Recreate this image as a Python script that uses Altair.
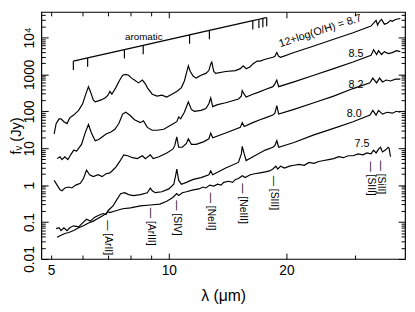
import altair as alt
import pandas as pd

# ---------------- data ----------------
lam_87 = [5.09,5.15,5.24,5.30,5.39,5.49,5.58,5.71,5.88,6.02,6.12,6.23,6.30,6.41,6.48,6.60,6.71,6.87,6.99,7.07,7.15,7.32,7.49,7.62,7.76,7.89,8.03,8.17,8.36,8.56,8.71,8.81,9.07,9.33,9.60,9.88,10.18,10.48,10.77,10.96,11.09,11.22,11.35,11.55,11.75,12.09,12.44,12.66,12.80,12.88,13.03,13.18,13.98,14.81,15.24,15.50,15.77,16.15,16.40,16.82,17.11,17.65,18.46,18.68,18.89,19.1,19.32,20.9,23.5,26.4,29.6,32.9,33.4,33.9,34.2,34.6,35.0,35.6,36.2,36.9,37.3,38.0,39.1]
f_87 = [24.3,46.4,62.4,62.4,52.2,46.4,66.2,79,106,160,273,464,345,203,180,191,203,229,273,345,290,438,702,942,1000,942,790,702,588,702,554,438,290,257,273,243,290,345,438,662,1062,1700,1195,889,790,942,1062,1267,1915,2155,1195,1062,1195,1267,1425,1700,1425,1605,1915,2290,2290,2570,2900,3070,3890,3070,2900,3890,5880,8890,13430,20300,24250,28950,21550,27300,30700,22850,24250,28950,27300,30700,32600]

lam_85 = [5.18,5.27,5.33,5.42,5.52,5.61,5.71,5.81,5.98,6.12,6.23,6.34,6.48,6.60,6.71,6.91,7.11,7.28,7.45,7.62,7.76,7.94,8.17,8.46,8.61,8.81,9.07,9.33,9.71,10.18,10.48,10.60,10.72,10.96,11.22,11.42,11.62,12.09,12.44,12.66,12.80,12.95,13.33,13.98,15.07,15.33,15.41,15.59,15.77,16.40,16.92,17.65,18.46,18.68,18.89,19.1,20.9,23.5,26.4,29.6,32.9,33.4,34.0,34.4,35.0,35.6,36.4,37.3,38.2,39.1]
f_85 = [5.22,5.88,4.92,5.88,4.92,6.62,8.89,8.38,12.7,27.3,43.8,25.7,16.0,17.0,19.1,24.3,27.3,32.6,46.4,83.8,94.2,79.0,58.8,49.2,55.4,36.6,30.7,30.7,32.6,43.8,52.2,70.2,62.4,94.2,180,112.5,100,106,119,160,229,134,151,170,215,257,366,290,243,290,326,389,464,554,702,464,624,942,1425,2155,3260,4640,3450,4380,3450,4125,3660,3890,4380,4125]

lam_82 = [5.09,5.18,5.27,5.33,5.42,5.55,5.65,5.78,5.94,6.05,6.16,6.27,6.41,6.60,6.75,6.91,7.07,7.20,7.32,7.49,7.67,7.85,8.07,8.31,8.56,8.71,8.97,9.12,9.44,9.88,10.24,10.36,10.48,10.60,10.83,11.09,11.22,11.42,11.75,12.30,12.66,12.80,12.95,13.98,15.24,15.41,15.59,16.40,17.11,17.65,18.46,18.68,18.89,19.1,20.9,23.5,26.4,29.6,32.7,33.25,34.0,34.6,35.2,36.0,36.9,38.0,39.1]
f_82 = [1.34,1.0,0.744,0.702,0.838,0.889,0.838,1.0,1.125,1.51,2.57,1.91,1.70,1.91,1.70,2.03,2.15,2.57,3.07,4.38,6.62,6.24,5.54,5.22,6.24,5.22,6.62,5.22,5.88,7.44,9.42,11.9,20.3,10.6,10.6,13.4,18.0,12.7,12.7,15.1,18.0,25.7,19.1,25.7,36.6,49.2,38.9,49.2,58.8,66.2,79.0,88.9,143,83.8,112.5,170,257,412,588,790,588,790,624,702,662,744,744]

lam_80 = [5.15,5.24,5.30,5.39,5.49,5.58,5.71,5.88,6.05,6.16,6.30,6.45,6.60,6.79,6.91,6.99,7.20,7.37,7.53,7.71,7.89,8.12,8.46,8.81,8.97,9.07,9.23,9.60,10.0,10.30,10.42,10.48,10.60,10.77,11.09,11.55,12.09,12.66,12.80,12.95,13.98,15.07,15.33,15.41,15.59,15.77,16.59,17.65,18.46,18.68,18.89,19.1,20.9,23.5,26.4,29.6,32.7,33.25,33.9,34.4,35.2,36.2,37.3,38.2,39.1]
f_80 = [0.0662,0.0702,0.0588,0.0702,0.0588,0.0702,0.079,0.0744,0.1,0.119,0.106,0.134,0.151,0.170,0.160,0.203,0.273,0.412,0.588,0.624,0.554,0.522,0.554,0.624,0.838,0.702,0.624,0.662,0.790,1.06,1.91,2.73,1.34,1.06,1.19,1.43,1.60,1.91,2.43,1.91,2.90,4.12,7.02,11.2,7.02,4.64,6.24,8.89,10.6,11.9,16.0,10.6,14.3,22.9,34.5,52.2,79.0,106,79.0,106,83.8,94.2,88.9,100,94.2]

lam_75 = [5.18,5.30,5.42,5.55,5.71,5.88,6.05,6.23,6.41,6.60,6.79,6.91,6.99,7.07,7.32,7.62,7.98,8.46,8.97,9.49,9.88,10.24,10.48,10.60,10.83,11.09,11.55,11.95,12.23,12.44,12.73,13.03,13.33,13.60,13.82,14.22,14.56,14.81,15.07,15.41,15.68,16.15,16.59,17.11,17.65,18.1,18.46,18.78,19.0,19.32,19.77,20.35,20.9,21.56,22.19,22.84,23.5,24.2,24.91,25.64,26.4,27.2,27.96,28.78,29.6,30.5,31.4,32.1,32.9,33.4,33.9,34.4,34.8,35.2,35.8,36.4,36.6,36.9]
f_75 = [0.0389,0.0438,0.0492,0.0522,0.0588,0.0702,0.079,0.0942,0.106,0.127,0.151,0.170,0.191,0.180,0.203,0.229,0.243,0.273,0.290,0.307,0.366,0.464,0.588,0.522,0.624,0.662,0.744,0.790,0.889,0.838,1.0,0.942,1.06,1.0,1.19,1.27,1.19,1.43,1.51,1.80,1.60,1.91,2.03,2.15,2.29,2.43,2.73,3.26,2.73,3.26,2.90,3.26,3.45,3.66,3.45,4.12,3.89,4.38,4.64,4.92,5.22,5.88,5.54,6.24,6.24,7.02,6.62,7.44,7.02,8.89,7.44,9.42,10.6,7.90,8.89,10.6,10.0,5.88]

# aromatic (PAH) feature markers
arom_lam = [5.7, 6.2, 7.7, 8.6, 11.3, 12.7, 16.4, 17.0, 17.4, 17.8]
arom_f = [2280, 2790, 4680, 6090, 11700, 15450, 28450, 31000, 32800, 34600]

# metallicity labels
z_labels = ["8.5", "8.2", "8.0", "7.5"]
z_lam = [30.1, 30.1, 29.8, 31.2]
z_f = [3450, 522, 83.8, 12.7]

main_label = ["12+log(O/H) = 8.7"]
main_lam = [24.4]
main_f = [14800]

arom_text = ["aromatic"]
arom_text_lam = [8.63]
arom_text_f = [10300]

# fine-structure line identifications
id_names = ["[ArII]", "[ArIII]", "[SIV]", "[NeII]", "[NeIII]", "[SIII]", "[SIII]", "[SiII]"]
id_lam = [6.99, 9.02, 10.48, 12.80, 15.50, 18.6, 32.9, 34.8]
id_f = [0.1125, 0.243, 0.389, 0.624, 1.125, 1.80, 4.38, 4.64]

# axis tick values
x_label_vals = [5, 10, 20]
x_tick_major = [10, 20]
x_tick_minor = [5, 6, 7, 8, 9, 30]
y_label_vals = [0.01, 0.1, 1, 10, 100, 1000, 10000]
y_minor = [round(m * 10.0 ** k, 6) for k in range(-2, 5) for m in range(2, 10) if m * 10.0 ** k < 49000]

# ---------------- tables ----------------
curves = [("8.7", lam_87, f_87), ("8.5", lam_85, f_85), ("8.2", lam_82, f_82),
          ("8.0", lam_80, f_80), ("7.5", lam_75, f_75)]
spec_df = pd.concat([pd.DataFrame({"lam": l, "f": f, "curve": n}) for n, l, f in curves],
                    ignore_index=True)
arom_df = pd.DataFrame({"lam": arom_lam, "f": arom_f})
zlab_df = pd.DataFrame({"lam": z_lam, "f": z_f, "label": z_labels})
main_df = pd.DataFrame({"lam": main_lam, "f": main_f, "label": main_label})
atext_df = pd.DataFrame({"lam": arom_text_lam, "f": arom_text_f, "label": arom_text})
id_df = pd.DataFrame({"lam": id_lam, "f": id_f, "label": ["\u2014 " + n for n in id_names]})

FONT = "Liberation Sans"
W, H = 371, 252
XS = alt.Scale(type="log", domain=[4.72, 40.2], nice=False)
YS = alt.Scale(type="log", domain=[0.01, 49000], nice=False)


def tick_axis(orient, offset, values, size):
    return alt.Axis(orient=orient, offset=offset, values=values, ticks=True,
                    tickSize=size, labels=False, domain=False, grid=False, title=None)


x_label_axis = alt.Axis(orient="bottom", values=x_label_vals, ticks=False, tickSize=0,
                        labelPadding=5, format="~g", labelFlush=False,
                        title="\u03bb (\u03bcm)", titleY=37, titleBaseline="middle")
y_label_axis = alt.Axis(orient="left", values=y_label_vals, ticks=False, tickSize=0,
                        labelPadding=8, labelAngle=270, labelAlign="center",
                        labelBaseline="alphabetic", labelFlush=False, labelOverlap=False,
                        labelExpr="datum.value >= 10000 ? '10\u2074' : format(datum.value, '~f')",
                        title="f\u1d65 (Jy)", titleX=-26, titleBaseline="middle",
                        titleFontSize=15)

spectra = alt.Chart(spec_df).mark_line(color="black", strokeWidth=1.2).encode(
    x=alt.X("lam:Q", scale=XS, axis=x_label_axis),
    y=alt.Y("f:Q", scale=YS, axis=y_label_axis),
    detail="curve:N",
)

arom_line = alt.Chart(arom_df).mark_line(color="black", strokeWidth=1.2).encode(
    x=alt.X("lam:Q", scale=XS, axis=tick_axis("bottom", -H, x_tick_major, 6)),
    y=alt.Y("f:Q", scale=YS, axis=tick_axis("right", -W, y_label_vals, 7)),
)

arom_ticks = alt.Chart(arom_df).mark_rule(color="black", strokeWidth=1.2, y2Offset=9).encode(
    x=alt.X("lam:Q", scale=XS, axis=tick_axis("bottom", -H, x_tick_minor, 4)),
    y=alt.Y("f:Q", scale=YS, axis=tick_axis("right", -W, y_minor, 4)),
    y2="f:Q",
)

zlabels = alt.Chart(zlab_df).mark_text(font=FONT, fontSize=11, color="black").encode(
    x=alt.X("lam:Q", scale=XS, axis=tick_axis("top", -H, x_tick_major, 6)),
    y=alt.Y("f:Q", scale=YS, axis=tick_axis("left", -W, y_label_vals, 7)),
    text="label:N",
)

idlabels = alt.Chart(id_df).mark_text(font=FONT, fontSize=10.5, color="black", angle=90,
                                      align="left", baseline="middle").encode(
    x=alt.X("lam:Q", scale=XS, axis=tick_axis("top", -H, x_tick_minor, 4)),
    y=alt.Y("f:Q", scale=YS, axis=tick_axis("left", -W, y_minor, 4)),
    text="label:N",
)

mainlabel = alt.Chart(main_df).mark_text(font=FONT, fontSize=11, color="black", angle=342).encode(
    x=alt.X("lam:Q", scale=XS, axis=None),
    y=alt.Y("f:Q", scale=YS, axis=None),
    text="label:N",
)

atext = alt.Chart(atext_df).mark_text(font=FONT, fontSize=10, color="black").encode(
    x=alt.X("lam:Q", scale=XS, axis=None),
    y=alt.Y("f:Q", scale=YS, axis=None),
    text="label:N",
)

chart = (
    alt.layer(spectra, arom_line, arom_ticks, zlabels, idlabels, mainlabel, atext)
    .resolve_axis(x="independent", y="independent")
    .properties(width=W, height=H, autosize=alt.AutoSizeParams(type="none"),
                padding={"left": 34, "top": 1, "right": 2, "bottom": 48})
    .configure_view(stroke="black", strokeWidth=1.2)
    .configure_axis(labelFont=FONT, titleFont=FONT, labelColor="black", titleColor="black",
                    tickColor="black", tickWidth=1, domain=False, grid=False,
                    labelFontSize=14, titleFontSize=16, titleFontWeight="normal")
)

chart.save("out.html", embed_options={"renderer": "svg", "actions": False})
